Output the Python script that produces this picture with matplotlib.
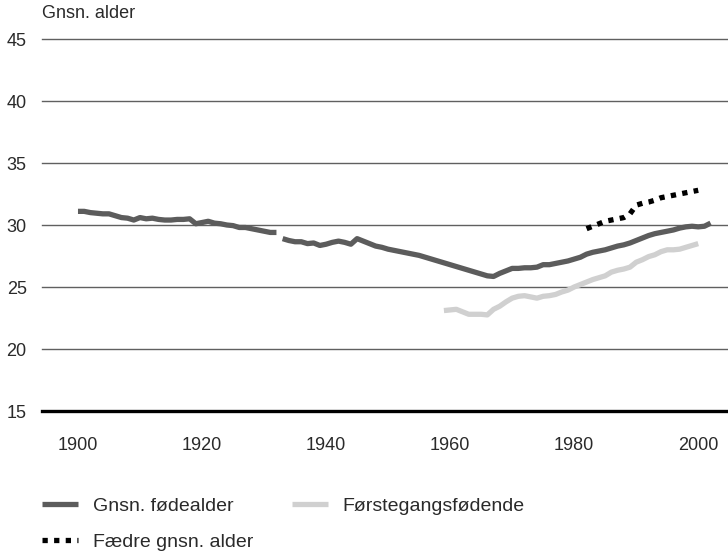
import matplotlib
matplotlib.use("Agg")
import matplotlib.pyplot as plt

plt.rcParams['font.family'] = ['Liberation Sans', 'DejaVu Sans']

# Gnsn. fødealder (two segments, break after 1932)
years_a1 = list(range(1900, 1933))
mean_age_a1 = [31.1, 31.1, 31.0, 30.95, 30.9, 30.9, 30.75, 30.6, 30.55, 30.4,
               30.6, 30.5, 30.55, 30.45, 30.4, 30.4, 30.45, 30.45, 30.5, 30.1,
               30.2, 30.3, 30.15, 30.1, 30.0, 29.95, 29.8, 29.8, 29.7, 29.6,
               29.5, 29.4, 29.4]
years_a2 = list(range(1933, 2003))
mean_age_a2 = [28.9, 28.75, 28.65, 28.65, 28.5, 28.55, 28.35, 28.45, 28.6, 28.7,
               28.6, 28.45, 28.9, 28.7, 28.5, 28.3, 28.2, 28.05, 27.95, 27.85,
               27.75, 27.65, 27.55, 27.4, 27.25, 27.1, 26.95, 26.8, 26.65, 26.5,
               26.35, 26.2, 26.05, 25.9, 25.85, 26.1, 26.3, 26.5, 26.5, 26.55,
               26.55, 26.6, 26.8, 26.8, 26.9, 27.0, 27.1, 27.25, 27.4, 27.65,
               27.8, 27.9, 28.0, 28.15, 28.3, 28.4, 28.55, 28.75, 28.95, 29.15,
               29.3, 29.4, 29.5, 29.6, 29.75, 29.85, 29.9, 29.85, 29.9, 30.15]

# Førstegangsfødende
years_b = list(range(1959, 2001))
first_age = [23.1, 23.15, 23.2, 23.0, 22.8, 22.8, 22.8, 22.75, 23.2, 23.45,
             23.8, 24.1, 24.25, 24.3, 24.2, 24.1, 24.25, 24.3, 24.4, 24.6,
             24.75, 25.0, 25.2, 25.4, 25.6, 25.75, 25.9, 26.2, 26.35, 26.45,
             26.6, 27.0, 27.2, 27.45, 27.6, 27.85, 28.0, 28.0, 28.05, 28.2,
             28.35, 28.5]

# Fædre gnsn. alder
years_c = list(range(1982, 2001))
father_age = [29.7, 29.9, 30.1, 30.3, 30.4, 30.5, 30.6, 30.9, 31.6, 31.75,
              31.85, 32.0, 32.2, 32.3, 32.4, 32.5, 32.6, 32.7, 32.8]

yticks = [15, 20, 25, 30, 35, 40, 45]
xticks = [1900, 1920, 1940, 1960, 1980, 2000]

text_color = '#2a2a2a'
fig = plt.figure(figsize=(7.28, 5.54), dpi=100)
ax = fig.add_axes([42 / 728, 1 - 411 / 554, 1 - 42 / 728, (411 - 39) / 554])

for y in yticks[1:]:
    ax.axhline(y, color='#606060', lw=1.0, zorder=1, clip_on=False)
ax.axhline(15, color='black', lw=2.4, zorder=1, clip_on=False)

dark = '#5c5c5c'
l1, = ax.plot(years_a1, mean_age_a1, color=dark, lw=3.8, solid_capstyle='butt',
              label='Gnsn. fødealder', zorder=3)
ax.plot(years_a2, mean_age_a2, color=dark, lw=3.8, solid_capstyle='butt', zorder=3)
l2, = ax.plot(years_b, first_age, color='#d0d0d0', lw=3.8, solid_capstyle='butt',
              label='Førstegangsfødende', zorder=2)
l3, = ax.plot(years_c, father_age, color='black', lw=3.8, linestyle=(0, (1, 1.2)),
              dash_capstyle='butt', label='Fædre gnsn. alder', zorder=4)

ax.set_xlim(1894.2, 2004.8)
ax.set_ylim(15, 45)
ax.set_xticks(xticks)
ax.set_yticks(yticks)
ax.tick_params(length=0, labelsize=13, labelcolor=text_color)
ax.tick_params(axis='x', pad=19)
ax.tick_params(axis='y', pad=11)
for s in ax.spines.values():
    s.set_visible(False)

fig.text(42 / 728, 1 - 14 / 554, 'Gnsn. alder', fontsize=13, color=text_color,
         ha='left', va='center')

fig.legend(handles=[l1, l3, l2], ncol=2, loc='upper left',
           bbox_to_anchor=(42 / 728, 1 - 497 / 554), frameon=False,
           borderpad=0, borderaxespad=0,
           fontsize=14, labelcolor=text_color, handlelength=1.85,
           handletextpad=0.75, columnspacing=2.0, labelspacing=0.95)

fig.savefig('out.png', dpi=100)
